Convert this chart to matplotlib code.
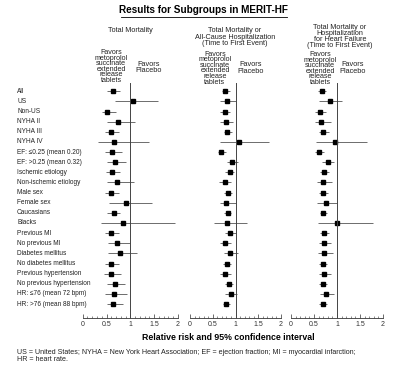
import numpy as np
import matplotlib
matplotlib.use("Agg")
import matplotlib.pyplot as plt
from matplotlib.transforms import blended_transform_factory
from matplotlib.lines import Line2D

plt.rcParams['font.family'] = ['Liberation Sans Narrow', 'Liberation Sans', 'DejaVu Sans']

subgroups = ["All", "US", "Non-US", "NYHA II", "NYHA III", "NYHA IV",
             "EF: \u22640.25 (mean 0.20)", "EF: >0.25 (mean 0.32)",
             "Ischemic etiology", "Non-ischemic etiology", "Male sex", "Female sex",
             "Caucasians", "Blacks", "Previous MI", "No previous MI",
             "Diabetes mellitus", "No diabetes mellitus", "Previous hypertension",
             "No previous hypertension", "HR: \u226476 (mean 72 bpm)",
             "HR: >76 (mean 88 bpm)"]

# total mortality
rr_mort = [0.63, 1.05, 0.52, 0.74, 0.60, 0.65, 0.61, 0.68, 0.61, 0.73, 0.60, 0.90,
           0.65, 0.85, 0.59, 0.72, 0.78, 0.60, 0.60, 0.68, 0.66, 0.64]
lo_mort = [0.52, 0.68, 0.40, 0.50, 0.46, 0.32, 0.46, 0.52, 0.48, 0.50, 0.47, 0.56,
           0.52, 0.38, 0.46, 0.54, 0.54, 0.46, 0.44, 0.52, 0.46, 0.50]
hi_mort = [0.78, 1.58, 0.69, 1.09, 0.76, 1.40, 0.82, 0.91, 0.78, 1.08, 0.76, 1.46,
           0.78, 1.93, 0.76, 1.00, 1.13, 0.76, 0.81, 0.88, 0.93, 0.84]

# total mortality or all-cause hospitalization
rr_hosp = [0.78, 0.82, 0.77, 0.80, 0.82, 1.07, 0.69, 0.93, 0.87, 0.76, 0.83, 0.80,
           0.84, 0.82, 0.88, 0.77, 0.88, 0.81, 0.77, 0.86, 0.90, 0.80]
lo_hosp = [0.71, 0.66, 0.67, 0.67, 0.74, 0.66, 0.61, 0.82, 0.77, 0.63, 0.74, 0.66,
           0.75, 0.52, 0.78, 0.67, 0.74, 0.72, 0.67, 0.77, 0.77, 0.72]
hi_hosp = [0.88, 1.00, 0.89, 0.94, 0.92, 1.74, 0.80, 1.06, 0.96, 0.91, 0.93, 1.00,
           0.91, 1.26, 1.00, 0.90, 1.06, 0.91, 0.90, 0.95, 1.04, 0.89]

# total mortality or hospitalization for heart failure
rr_hf = [0.67, 0.84, 0.63, 0.66, 0.69, 0.96, 0.60, 0.81, 0.72, 0.70, 0.69, 0.76,
         0.69, 0.99, 0.71, 0.72, 0.72, 0.69, 0.72, 0.69, 0.76, 0.69]
lo_hf = [0.58, 0.60, 0.53, 0.53, 0.60, 0.55, 0.52, 0.68, 0.63, 0.57, 0.60, 0.57,
         0.62, 0.58, 0.62, 0.60, 0.58, 0.61, 0.61, 0.60, 0.63, 0.60]
hi_hf = [0.76, 1.11, 0.76, 0.87, 0.82, 1.65, 0.71, 0.93, 0.82, 0.89, 0.80, 1.00,
         0.78, 1.79, 0.83, 0.86, 0.91, 0.78, 0.88, 0.78, 0.94, 0.78]

titles = ["Total Mortality",
          "Total Mortality or\nAll-Cause Hospitalization\n(Time to First Event)",
          "Total Mortality or\nHospitalization\nfor Heart Failure\n(Time to First Event)"]
tick_vals = [0, 0.5, 1, 1.5, 2]
tick_labels = ["0", "0.5", "1", "1.5", "2"]

W, H = 400, 377
fig = plt.figure(figsize=(4.0, 3.77), dpi=100)
fig.patch.set_facecolor("white")

n = len(subgroups)
step = 10.13
ybot = (318 - 91.3) / step
ytop = (83 - 91.3) / step
panels = [(82.7, 178.0), (190.0, 281.0), (291.0, 383.0)]
data = [(rr_mort, lo_mort, hi_mort), (rr_hosp, lo_hosp, hi_hosp), (rr_hf, lo_hf, hi_hf)]
rows = np.arange(n)

axes = []
for (x0, x1), (rr, lo, hi) in zip(panels, data):
    ax = fig.add_axes([x0 / W, 1 - 318 / H, (x1 - x0) / W, (318 - 83) / H])
    ax.set_xlim(0, 2)
    ax.set_ylim(ybot, ytop)
    ax.hlines(rows, lo, hi, color="#555555", lw=0.6, clip_on=False)
    ax.plot(rr, rows, "s", color="black", ms=3.5, clip_on=False)
    ax.axvline(1, color="#444444", lw=0.7)
    for s in ["top", "left", "right"]:
        ax.spines[s].set_visible(False)
    ax.spines["bottom"].set_linewidth(0.6)
    ax.spines["bottom"].set_color("#333333")
    ax.set_yticks([])
    ax.set_xticks(tick_vals)
    ax.set_xticklabels(tick_labels)
    ax.set_xticks(np.arange(0, 2.01, 0.1), minor=True)
    ax.tick_params(axis="x", which="major", direction="in", length=3, width=0.5,
                   labelsize=5, pad=2, colors="#333333")
    ax.tick_params(axis="x", which="minor", direction="in", length=1.5, width=0.4,
                   colors="#333333")
    axes.append(ax)

# row labels
tr = blended_transform_factory(fig.transFigure, axes[0].transData)
for i, lab in enumerate(subgroups):
    axes[0].text(17 / W, i, lab, transform=tr, fontsize=4.7, va="center", ha="left",
                 color="#222222")

# headers
head_x = [130, 235, 340]
head_y = [30, 37.3, 36.3]
head_ls = [0.9, 0.9, 0.78]
for hx, hy, ls, t in zip(head_x, head_y, head_ls, titles):
    fig.text(hx / W, 1 - hy / H, t, fontsize=5.2, ha="center", va="center",
             linespacing=ls, color="#222222")

fav_x = [(111, 149, 66.5, 67.5), (215, 251, 68, 67.8), (320, 353, 68.5, 68)]
for fx, px, fy, py in fav_x:
    fig.text(fx / W, 1 - fy / H,
             "Favors\nmetoprolol\nsuccinate\nextended\nrelease\ntablets",
             fontsize=5.1, ha="center", va="center", linespacing=0.72, color="#222222")
    fig.text(px / W, 1 - py / H, "Favors\nPlacebo", fontsize=5.3, ha="center",
             va="center", linespacing=0.95, color="#222222")

# title with underline
fig.text(203 / W, 1 - 10 / H, "Results for Subgroups in MERIT-HF", fontsize=7.2,
         fontweight="bold", ha="center", va="center", family="Liberation Sans")
fig.add_artist(Line2D([121 / W, 287 / W], [1 - 16.5 / H, 1 - 16.5 / H],
                      transform=fig.transFigure, color="black", lw=0.6))

fig.text(228 / W, 1 - 337 / H, "Relative risk and 95% confidence interval",
         fontsize=6.3, fontweight="bold", ha="center", va="center",
         family="Liberation Sans")
fig.text(17 / W, 1 - 356.3 / H,
         "US = United States; NYHA = New York Heart Association; EF = ejection fraction; "
         "MI = myocardial infarction;\nHR = heart rate.",
         fontsize=5.1, ha="left", va="center", linespacing=1.0, color="#222222")

fig.savefig("out.png", dpi=100)
